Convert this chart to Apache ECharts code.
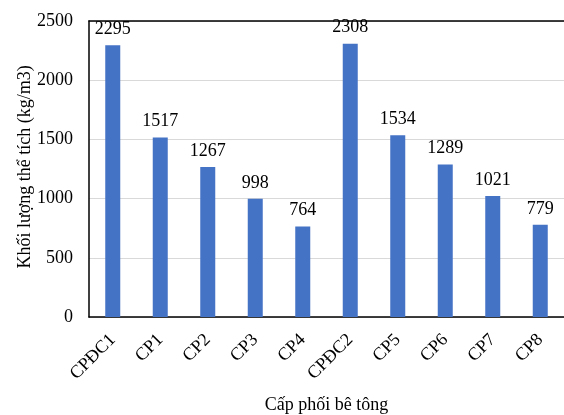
<!DOCTYPE html>
<html>
<head>
<meta charset="utf-8">
<script src="https://cdn.jsdelivr.net/npm/echarts@6/dist/echarts.min.js"></script>
<style>
html,body{margin:0;padding:0;background:#fff;}
#chart{width:564px;height:415px;}
</style>
</head>
<body>
<div id="chart"></div>
<script>
// Bulk density of each concrete mix
const categories = ['CPĐC1', 'CP1', 'CP2', 'CP3', 'CP4', 'CPĐC2', 'CP5', 'CP6', 'CP7', 'CP8'];
const densities = [2295, 1517, 1267, 998, 764, 2308, 1534, 1289, 1021, 779];
const yTicks = [0, 500, 1000, 1500, 2000, 2500];
const xTitle = 'Cấp phối bê tông';
const yTitle = 'Khối lượng thể tích (kg/m3)';

const font = '"Liberation Serif", "Times New Roman", serif';
const chart = echarts.init(document.getElementById('chart'));
chart.setOption({
  animation: false,
  grid: { left: 89, right: 0, top: 21, bottom: 98, containLabel: false, outerBoundsMode: 'none' },
  graphic: [{
    type: 'text',
    x: 25,
    y: 167,
    rotation: Math.PI / 2,
    style: {
      text: yTitle,
      fontFamily: font,
      fontSize: 18,
      fill: '#000',
      align: 'center',
      verticalAlign: 'middle'
    }
  }],
  xAxis: [{
    type: 'category',
    data: categories,
    name: xTitle,
    nameLocation: 'middle',
    nameGap: 79,
    nameTextStyle: { fontFamily: font, fontSize: 18, color: '#000' },
    axisLine: { lineStyle: { color: '#000', width: 1.5 } },
    axisTick: { show: false },
    axisLabel: { rotate: 45, interval: 0, fontFamily: font, fontSize: 18, color: '#000', margin: 20 }
  }, {
    type: 'category',
    data: categories,
    position: 'top',
    axisLine: { lineStyle: { color: '#000', width: 1.5 } },
    axisTick: { show: false },
    axisLabel: { show: false }
  }],
  yAxis: {
    type: 'value',
    min: yTicks[0],
    max: yTicks[yTicks.length - 1],
    interval: 500,
    axisLine: { show: true, lineStyle: { color: '#000', width: 1.5 } },
    axisTick: { show: false },
    axisLabel: { fontFamily: font, fontSize: 18, color: '#000', margin: 16, formatter: v => String(v) },
    splitLine: { lineStyle: { color: '#d9d9d9', width: 1 } }
  },
  series: [{
    type: 'bar',
    data: densities,
    barWidth: 15,
    itemStyle: { color: '#4472C4' },
    label: { show: true, position: 'top', distance: 7, fontFamily: font, fontSize: 18, color: '#000' }
  }]
});
</script>
</body>
</html>
